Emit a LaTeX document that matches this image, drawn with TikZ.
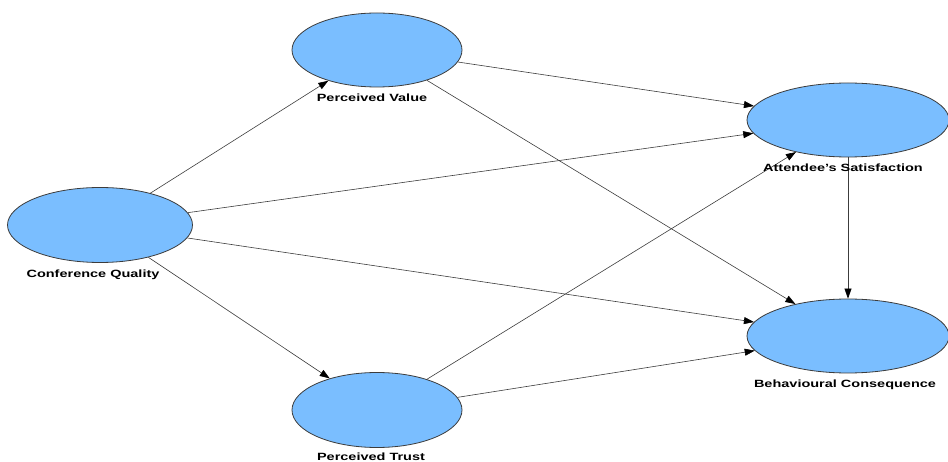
\documentclass[tikz,border=0pt]{standalone}
\usepackage{fontspec}
\setmainfont{Liberation Sans}
\usepackage{graphicx}
\usetikzlibrary{shapes.geometric,arrows.meta}
\definecolor{skyb}{RGB}{122,190,255}
\definecolor{edgec}{RGB}{60,60,60}
\newcommand{\lbl}[1]{\scalebox{1.38}[1]{\bfseries #1}}
\begin{document}
\begin{tikzpicture}[x=1pt,y=-1pt,
  latent/.style={ellipse,draw=edgec,line width=0.8pt,fill=skyb,inner sep=0pt},
  lab/.style={anchor=base,inner sep=0pt,font=\fontsize{10.5}{12}\selectfont},
  conn/.style={draw=edgec,line width=0.6pt,-{Triangle[length=10pt,width=7pt,color=black]}}]
\useasboundingbox (0,0) rectangle (948,462);
\clip (0,0) rectangle (948,462);
\node[latent,minimum width=170pt,minimum height=74pt] (pv) at (377,50) {};
\node[latent,minimum width=185pt,minimum height=75pt] (cq) at (100,225) {};
\node[latent,minimum width=202pt,minimum height=74pt] (as) at (848,120) {};
\node[latent,minimum width=202pt,minimum height=74pt] (bc) at (848,336) {};
\node[latent,minimum width=170pt,minimum height=75pt] (pt) at (377,410) {};
\draw[conn] (cq) -- (pv);
\draw[conn] (cq) -- (pt);
\draw[conn] (cq) -- (as);
\draw[conn] (cq) -- (bc);
\draw[conn] (pv) -- (as);
\draw[conn] (pv) -- (bc);
\draw[conn] (pt) -- (as);
\draw[conn] (pt) -- (bc);
\draw[conn] (as) -- (bc);
\node[lab] (pvl) at (372,102) {\lbl{Perceived Value}};
\node[lab] (cql) at (93,278) {\lbl{Conference Quality}};
\node[lab] (asl) at (843,172) {\lbl{Attendee's Satisfaction}};
\node[lab] (bcl) at (845,387) {\lbl{Behavioural Consequence}};
\node[lab] (ptl) at (371,460) {\lbl{Perceived Trust}};
\end{tikzpicture}
\end{document}
